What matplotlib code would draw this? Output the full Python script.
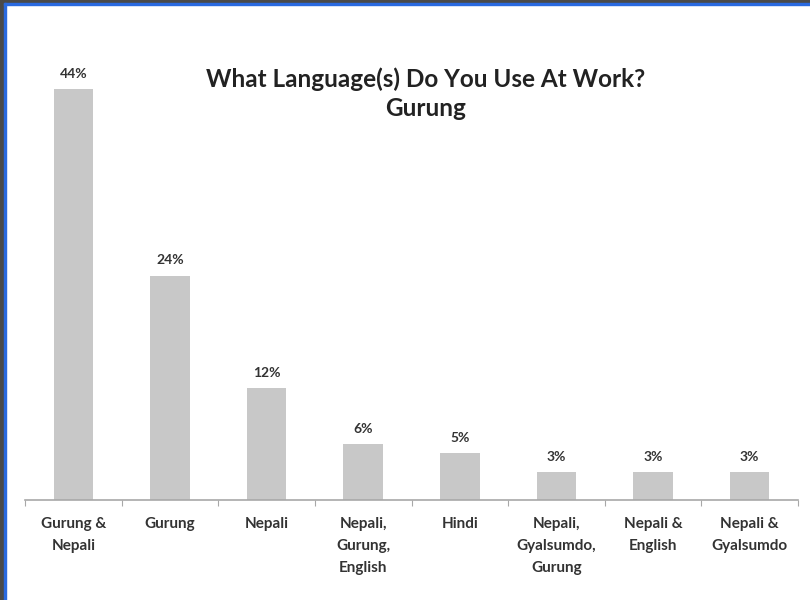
import matplotlib.pyplot as plt
from matplotlib.patches import Rectangle

categories = ['Gurung &\nNepali', 'Gurung', 'Nepali', 'Nepali,\nGurung,\nEnglish',
              'Hindi', 'Nepali,\nGyalsumdo,\nGurung', 'Nepali &\nEnglish',
              'Nepali &\nGyalsumdo']
shares = [44, 24, 12, 6, 5, 3, 3, 3]
value_labels = ['44%', '24%', '12%', '6%', '5%', '3%', '3%', '3%']

plt.rcParams['font.family'] = ['Lato', 'DejaVu Sans']

fig = plt.figure(figsize=(8.1, 6), dpi=100)
ax = fig.add_axes([25 / 810, 100 / 600, 773 / 810, 467 / 600])

x = list(range(len(shares)))
ax.bar(x, shares, width=0.41, color='#c8c8c8')
for xi, v, lab in zip(x, shares, value_labels):
    ax.text(xi, v + 1.0, lab, ha='center', va='bottom', fontsize=10,
            fontweight='bold', color='#333333')

ax.set_xlim(-0.5, len(shares) - 0.5)
ax.set_ylim(0, 50)
ax.set_yticks([])
for s in ['top', 'right', 'left']:
    ax.spines[s].set_visible(False)
ax.spines['bottom'].set_color('#a8a8a8')
ax.spines['bottom'].set_linewidth(1.2)

# ticks sit between categories, labels under each bar
ax.set_xticks([i - 0.5 for i in range(len(shares) + 1)])
ax.set_xticklabels([])
ax.set_xticks(x, minor=True)
ax.set_xticklabels(categories, minor=True, fontsize=11, fontweight='bold',
                   color='#333333', va='top', linespacing=1.75)
ax.tick_params(axis='x', which='major', length=4, color='#a8a8a8', direction='out')
ax.tick_params(axis='x', which='minor', length=0, pad=12)

fig.text(426 / 810, 1 - 94 / 600, 'What Language(s) Do You Use At Work?\nGurung',
         ha='center', va='center', fontsize=17.5, fontweight='bold',
         color='#222222', linespacing=1.3)

# screen frame: dark edge with a thin blue line
fig.patches.append(Rectangle((0, 0), 4 / 810, 1, transform=fig.transFigure,
                             color='#4a4a4a', zorder=0))
fig.patches.append(Rectangle((0, 1 - 3 / 600), 1, 3 / 600, transform=fig.transFigure,
                             color='#4a4a4a', zorder=0))
fig.patches.append(Rectangle((4 / 810, 0), 2 / 810, 1 - 3 / 600, transform=fig.transFigure,
                             color='#2a6ae0', zorder=0))
fig.patches.append(Rectangle((4 / 810, 1 - 5 / 600), 1, 2 / 600, transform=fig.transFigure,
                             color='#2a6ae0', zorder=0))

fig.savefig('out.png', dpi=100)
